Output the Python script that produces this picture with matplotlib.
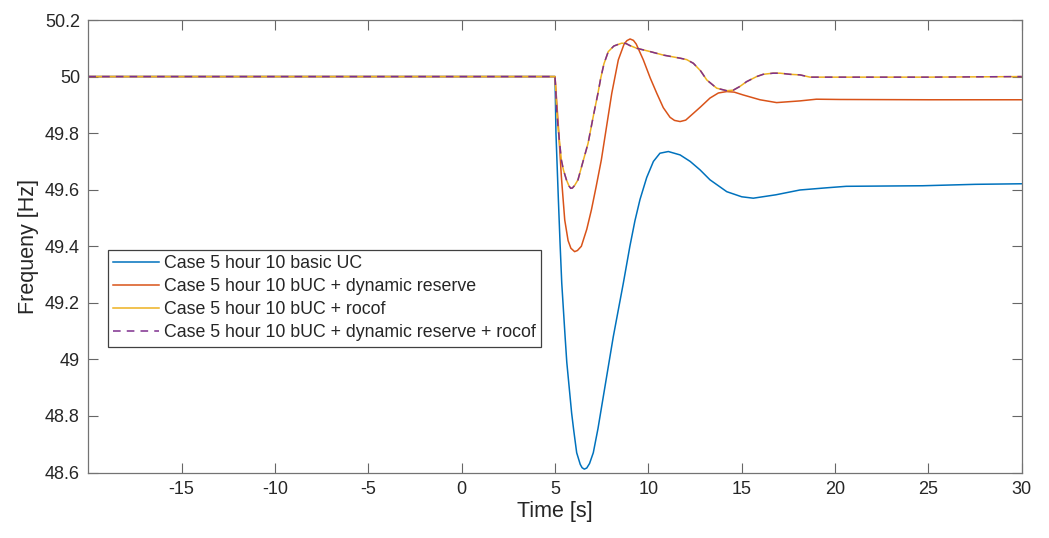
import matplotlib
matplotlib.use('Agg')
import matplotlib.pyplot as plt
from matplotlib.ticker import FormatStrFormatter

plt.rcParams['font.family'] = ['Liberation Sans', 'DejaVu Sans']
plt.rcParams['axes.unicode_minus'] = False

# case 5 hour 10, basic UC
t_basic = [-20, 5.0, 5.05, 5.18, 5.27, 5.36, 5.54, 5.63, 5.89, 6.0, 6.16, 6.35, 6.45, 6.57, 6.7, 6.85,
           7.05, 7.3, 7.59, 8.12, 8.66, 9.01, 9.28, 9.55, 9.91, 10.27, 10.62, 11.07, 11.7, 12.24,
           12.77, 13.30, 14.2, 15.0, 15.62, 16.83, 18.12, 19.6, 20.6, 24.7, 27.5, 30]
f_basic = [50, 50, 49.80, 49.564, 49.41, 49.27, 49.08, 48.99, 48.81, 48.75, 48.67, 48.629, 48.617, 48.612, 48.616, 48.632,
           48.67, 48.755, 48.87, 49.08, 49.27, 49.40, 49.49, 49.565, 49.643, 49.70, 49.729, 49.735, 49.723, 49.70,
           49.67, 49.635, 49.593, 49.575, 49.570, 49.582, 49.599, 49.607, 49.612, 49.614, 49.619, 49.621]

# bUC + dynamic reserve
t_dyn = [-20, 5.0, 5.18, 5.34, 5.52, 5.70, 5.85, 6.05, 6.2, 6.41, 6.7, 6.95, 7.2, 7.48, 7.80, 8.04,
         8.39, 8.7, 8.85, 9.02, 9.2, 9.35, 9.73, 10.1, 10.45, 10.8, 11.16, 11.4, 11.7, 12.0, 12.41,
         12.8, 13.30, 13.75, 14.2, 14.6, 15.08, 15.98, 16.87, 18.12, 19.0, 20.3, 25, 30]
f_dyn = [50, 50, 49.823, 49.646, 49.493, 49.42, 49.393, 49.381, 49.385, 49.40, 49.46, 49.529, 49.61, 49.705, 49.84, 49.941,
         50.059, 50.115, 50.127, 50.133, 50.128, 50.115, 50.059, 49.995, 49.941, 49.89, 49.856, 49.845, 49.841, 49.846, 49.870,
         49.893, 49.924, 49.942, 49.947, 49.945, 49.935, 49.918, 49.908, 49.914, 49.920, 49.919, 49.918, 49.918]

# bUC + rocof
t_rocof = [-20, 5.0, 5.09, 5.16, 5.34, 5.45, 5.61, 5.75, 5.84, 5.93, 6.05, 6.23, 6.5, 6.77, 7.05, 7.30,
           7.45, 7.62, 7.85, 8.15, 8.35, 8.57, 8.8, 9.0, 9.38, 10.0, 10.8, 11.7, 12.05, 12.41, 12.8,
           13.13, 13.66, 14.2, 14.55, 14.9, 15.26, 15.8, 16.15, 16.68, 17.05, 17.59, 18.12, 18.66,
           20.1, 25, 30]
f_rocof = [50, 50, 49.882, 49.823, 49.705, 49.67, 49.635, 49.613, 49.605, 49.606, 49.615, 49.635, 49.70, 49.764, 49.86, 49.941,
           49.995, 50.045, 50.088, 50.108, 50.113, 50.118, 50.117, 50.11, 50.10, 50.09, 50.076, 50.065, 50.06, 50.047, 50.02,
           49.988, 49.959, 49.95, 49.952, 49.965, 49.982, 50.0, 50.008, 50.012, 50.012, 50.008, 50.006, 49.998,
           49.998, 49.998, 50.0]

# bUC + dynamic reserve + rocof (lies on top of the rocof curve)
t_dyn_rocof = t_rocof
f_dyn_rocof = f_rocof

labels = ['Case 5 hour 10 basic UC',
          'Case 5 hour 10 bUC + dynamic reserve',
          'Case 5 hour 10 bUC + rocof',
          'Case 5 hour 10 bUC + dynamic reserve + rocof']
x_ticks = [-15, -10, -5, 0, 5, 10, 15, 20, 25, 30]
y_ticks = [48.6, 48.8, 49, 49.2, 49.4, 49.6, 49.8, 50, 50.2]

fig = plt.figure(figsize=(10.49, 5.38), dpi=100)
ax = fig.add_axes([0.0842, 0.1217, 0.8898, 0.8411])

ax.plot(t_basic, f_basic, color='#0072BD', lw=1.1, label=labels[0])
ax.plot(t_dyn, f_dyn, color='#D95319', lw=1.1, label=labels[1])
ax.plot(t_rocof, f_rocof, color='#EDB120', lw=1.1, label=labels[2])
ax.plot(t_dyn_rocof, f_dyn_rocof, color='#7E2F8E', lw=1.1, ls=(0, (5, 4)), label=labels[3])

ax.set_xlim(-20, 30)
ax.set_ylim(48.6, 50.2)
ax.set_xticks(x_ticks)
ax.set_yticks(y_ticks)
ax.yaxis.set_major_formatter(FormatStrFormatter('%g'))
ax.tick_params(direction='in', length=7, width=0.8, colors='0.4', labelcolor='#262626',
               labelsize=13, top=True, right=True, pad=6)
for sp in ax.spines.values():
    sp.set_color('0.45')
    sp.set_linewidth(0.9)

ax.set_xlabel('Time [s]', fontsize=15.5, color='#262626', labelpad=2)
ax.set_ylabel('Frequeny [Hz]', fontsize=15.5, color='#262626', labelpad=4)

leg = ax.legend(loc='upper left', bbox_to_anchor=(0.021, 0.492), fontsize=12.8,
                fancybox=False, framealpha=1, edgecolor='0.25', borderpad=0.3,
                handlelength=2.6, handletextpad=0.25, labelspacing=0.34, borderaxespad=0)
leg.get_frame().set_linewidth(0.9)
for txt in leg.get_texts():
    txt.set_color('#262626')

fig.savefig('out.png', dpi=100)
